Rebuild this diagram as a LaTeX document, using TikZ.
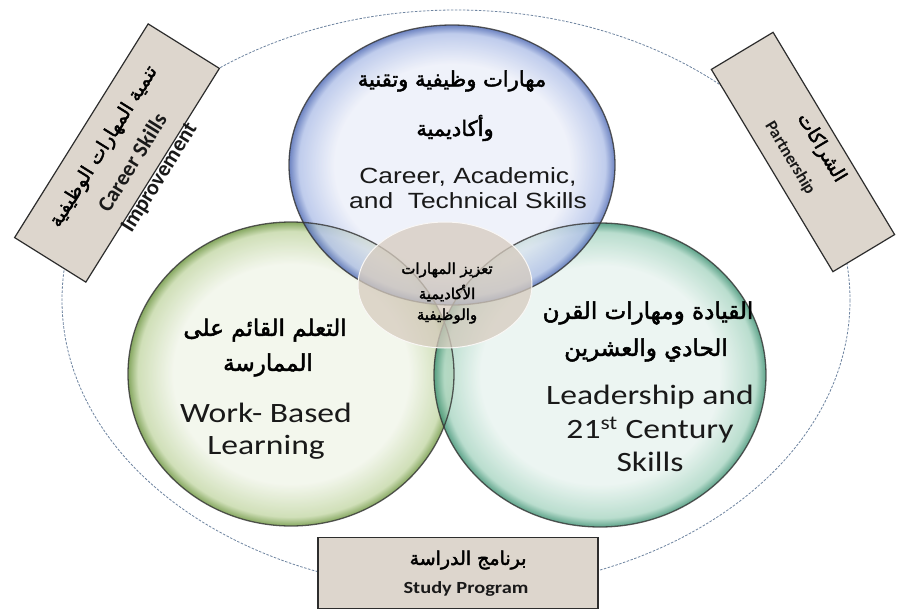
\documentclass[tikz,border=0pt]{standalone}
\usepackage{fontspec}
\setmainfont{Liberation Sans}
\newfontfamily\arabicfont[Script=Arabic,FakeBold=2.2]{DejaVu Sans}
\newfontfamily\calibri{Carlito}
\newfontfamily\arialfont{Liberation Sans}
\TeXXeTstate=1
\definecolor{bluein}{RGB}{236,239,249}
\definecolor{bluemid}{RGB}{176,192,232}
\definecolor{blueout}{RGB}{72,100,178}
\definecolor{greenin}{RGB}{242,246,235}
\definecolor{greenmid}{RGB}{200,218,172}
\definecolor{greenout}{RGB}{112,152,68}
\definecolor{tealin}{RGB}{233,244,240}
\definecolor{tealmid}{RGB}{174,216,198}
\definecolor{tealout}{RGB}{66,148,118}
\definecolor{boxfill}{RGB}{221,214,205}
\definecolor{boxline}{RGB}{45,45,45}
\definecolor{midfill}{RGB}{214,203,190}
\definecolor{dashcol}{RGB}{110,132,160}
\pgfdeclareradialshading{blueglass}{\pgfpoint{0bp}{0bp}}{color(0bp)=(bluein); color(18bp)=(bluein); color(23.5bp)=(bluemid); color(25bp)=(blueout); color(50bp)=(blueout)}
\pgfdeclareradialshading{greenglass}{\pgfpoint{0bp}{0bp}}{color(0bp)=(greenin); color(18bp)=(greenin); color(23.5bp)=(greenmid); color(25bp)=(greenout); color(50bp)=(greenout)}
\pgfdeclareradialshading{tealglass}{\pgfpoint{0bp}{0bp}}{color(0bp)=(tealin); color(18bp)=(tealin); color(23.5bp)=(tealmid); color(25bp)=(tealout); color(50bp)=(tealout)}
\tikzset{
  rimline/.style={draw=black!80, line width=1.3pt},
  tagbox/.style={draw=boxline, fill=boxfill, line width=1.2pt, inner sep=0pt},
  ar/.style={font=\arabicfont\fontsize{#1}{#1}\selectfont, inner sep=0pt, text=black},
  cal/.style={font=\calibri\fontsize{#1}{#1}\selectfont, inner sep=0pt, text=black!90, xscale=1.2},
  calb/.style={font=\calibri\bfseries\fontsize{#1}{#1}\selectfont, inner sep=0pt, text=black!90},
  ari/.style={font=\arialfont\fontsize{#1}{#1}\selectfont, inner sep=0pt, text=black!90, xscale=1.2},
}
\begin{document}
\begin{tikzpicture}[x=1pt,y=-1pt]
\useasboundingbox[fill=white] (0,0) rectangle (898,616);
% outer dashed ellipse
\draw[dashcol, line width=0.8pt, dash pattern=on 2.5pt off 1.5pt] (456,300) ellipse [x radius=394, y radius=290];
% circles
\shade[shading=greenglass, fill opacity=0.85] (291,374) ellipse [x radius=163, y radius=152];
\shade[shading=tealglass, fill opacity=0.85] (600,375) ellipse [x radius=166, y radius=152];
\shade[shading=blueglass, fill opacity=0.8] (452,165) ellipse [x radius=163, y radius=140];
\draw[rimline, draw opacity=0.8] (291,374) ellipse [x radius=163, y radius=152];
\draw[rimline, draw opacity=0.8] (600,375) ellipse [x radius=166, y radius=152];
\draw[rimline, draw opacity=0.8] (452,165) ellipse [x radius=163, y radius=140];
\fill[midfill, fill opacity=0.75] (445,285) ellipse [x radius=87, y radius=63];
\draw[white!85!midfill, line width=1pt] (445,285) ellipse [x radius=87, y radius=63];
% boxes
\node[tagbox, minimum width=252, minimum height=84, rotate=58] (bl) at (117,153) {};
\node[tagbox, minimum width=236, minimum height=72, rotate=-59] (br) at (803,152) {};
\node[tagbox, minimum width=280, minimum height=71] (bb) at (458,573) {};
% left box text
\node[ar=19, rotate=58] (bl1) at (104,147) {\beginR تنمية المهارات الوظيفية\endR};
\node[calb=22, rotate=58] (bl2) at (132,162) {Career Skills};
\node[calb=22, rotate=58] (bl3) at (160,178) {Improvement};
% right box text
\node[ar=19, rotate=-59] (br1) at (821,148) {\beginR الشراكات\endR};
\node[calb=17, rotate=-59] (br2) at (790,158) {Partnership};
% bottom box text
\node[ar=19] (bb1) at (468,560) {\beginR برنامج الدراسة\endR};
\node[calb=17, xscale=1.2] (bb2) at (466,589) {Study Program};
% top circle text
\node[ar=21] (t1) at (452,81) {\beginR مهارات وظيفية وتقنية\endR};
\node[ar=21] (t2) at (455,128) {\beginR وأكاديمية\endR};
\node[ari=22] (t3) at (468,177) {Career, Academic,};
\node[ari=22] (t4) at (468,201) {and\ \ Technical Skills};
% center text
\node[ar=15] (c1) at (447,270) {\beginR تعزيز المهارات\endR};
\node[ar=15] (c2) at (447,293) {\beginR الأكاديمية\endR};
\node[ar=15] (c3) at (447,316) {\beginR والوظيفية\endR};
% left circle text
\node[ar=23] (l1) at (265,330) {\beginR التعلم القائم على\endR};
\node[ar=23] (l2) at (268,365) {\beginR الممارسة\endR};
\node[cal=28] (l3) at (266,413) {Work- Based};
\node[cal=28] (l4) at (266,447) {Learning};
% right circle text
\node[ar=23] (r1) at (648,313) {\beginR القيادة ومهارات القرن\endR};
\node[ar=23] (r2) at (646,350) {\beginR الحادي والعشرين\endR};
\node[cal=28] (r3) at (650,397) {Leadership and};
\node[cal=28] (r4) at (650,430) {21\textsuperscript{st} Century};
\node[cal=28] (r5) at (650,462) {Skills};
\end{tikzpicture}
\end{document}
